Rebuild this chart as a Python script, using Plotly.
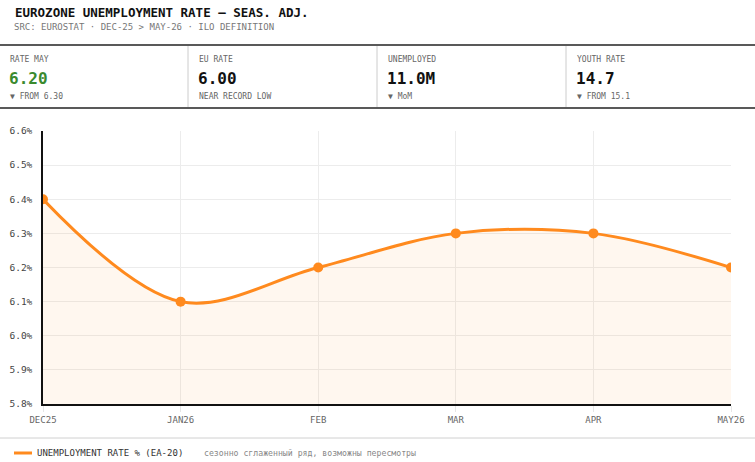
import plotly.graph_objects as go

months = ["DEC25", "JAN26", "FEB", "MAR", "APR", "MAY26"]
rate = [6.4, 6.1, 6.2, 6.3, 6.3, 6.2]

kpi_labels = ["RATE MAY", "EU RATE", "UNEMPLOYED", "YOUTH RATE"]
kpi_values = ["6.20", "6.00", "11.0M", "14.7"]
kpi_notes = ["▼ FROM 6.30", "NEAR RECORD LOW", "▼ MoM", "▼ FROM 15.1"]
kpi_colors = ["#3a8a2e", "#111111", "#111111", "#111111"]

W, H = 755, 462
L, R, T, B = 43, 731, 131, 404
FONT = "DejaVu Sans Mono"
ORANGE = "#ff8a1e"

def fx(px):
    return (px - L) / (R - L)

def fy(py):
    return (B - py) / (B - T)

fig = go.Figure()
fig.add_trace(go.Scatter(
    x=months, y=rate, mode="lines+markers",
    line=dict(color=ORANGE, width=3, shape="spline", smoothing=1.0),
    marker=dict(size=10, color=ORANGE),
    fill="tozeroy", fillcolor="rgba(255,138,30,0.07)",
    name="UNEMPLOYMENT RATE % (EA-20)", showlegend=False,
    hovertemplate="%{x}: %{y:.1f}%<extra></extra>",
))

shapes = []
ann = []

# header
ann.append(dict(x=fx(13), y=fy(12), xref="paper", yref="paper", xanchor="left", yanchor="middle",
                text="<b>EUROZONE UNEMPLOYMENT RATE — SEAS. ADJ.</b>", showarrow=False,
                font=dict(family=FONT, size=12.5, color="#111")))
ann.append(dict(x=fx(12), y=fy(27), xref="paper", yref="paper", xanchor="left", yanchor="middle",
                text="SRC: EUROSTAT · DEC-25 > MAY-26 · ILO DEFINITION", showarrow=False,
                font=dict(family=FONT, size=9, color="#777")))

shapes.append(dict(type="line", xref="paper", yref="paper", x0=fx(0), x1=fx(W), y0=fy(45), y1=fy(45),
                   line=dict(color="#222", width=1.5)))
shapes.append(dict(type="line", xref="paper", yref="paper", x0=fx(0), x1=fx(W), y0=fy(108), y1=fy(108),
                   line=dict(color="#222", width=1.5)))
for xd in [188, 377, 566]:
    shapes.append(dict(type="line", xref="paper", yref="paper", x0=fx(xd), x1=fx(xd), y0=fy(46), y1=fy(107),
                       line=dict(color="#ccc", width=1)))

starts = [8, 197, 386, 575]
for i, x0 in enumerate(starts):
    ann.append(dict(x=fx(x0), y=fy(59), xref="paper", yref="paper", xanchor="left", yanchor="middle",
                    text=kpi_labels[i], showarrow=False, font=dict(family=FONT, size=8, color="#666")))
    ann.append(dict(x=fx(x0 - 1), y=fy(78), xref="paper", yref="paper", xanchor="left", yanchor="middle",
                    text="<b>" + kpi_values[i] + "</b>", showarrow=False,
                    font=dict(family=FONT, size=16, color=kpi_colors[i])))
    ann.append(dict(x=fx(x0), y=fy(96), xref="paper", yref="paper", xanchor="left", yanchor="middle",
                    text=kpi_notes[i], showarrow=False, font=dict(family=FONT, size=8, color="#666")))

# footer
shapes.append(dict(type="line", xref="paper", yref="paper", x0=fx(0), x1=fx(W), y0=fy(438), y1=fy(438),
                   line=dict(color="#d0d0d0", width=1)))
shapes.append(dict(type="line", xref="paper", yref="paper", x0=fx(14), x1=fx(32), y0=fy(453), y1=fy(453),
                   line=dict(color=ORANGE, width=3)))
ann.append(dict(x=fx(35), y=fy(453), xref="paper", yref="paper", xanchor="left", yanchor="middle",
                text="UNEMPLOYMENT RATE % (EA-20)", showarrow=False,
                font=dict(family=FONT, size=9, color="#333")))
ann.append(dict(x=fx(202), y=fy(453), xref="paper", yref="paper", xanchor="left", yanchor="middle",
                text="сезонно сглаженный ряд, возможны пересмотры", showarrow=False,
                font=dict(family=FONT, size=8.2, color="#888")))

fig.update_layout(
    width=W, height=H,
    margin=dict(l=L, r=W - R, t=T, b=H - B),
    paper_bgcolor="white", plot_bgcolor="white",
    font=dict(family=FONT, size=9, color="#444"),
    shapes=shapes, annotations=ann,
    xaxis=dict(range=[0, 5], showgrid=True, gridcolor="#ececec", gridwidth=1,
               showline=True, linecolor="#111", linewidth=1.5, automargin=False,
               ticks="outside", ticklen=6, tickcolor="#e6e6e6",
               tickfont=dict(family=FONT, size=9, color="#666"), zeroline=False, fixedrange=True),
    yaxis=dict(range=[5.8, 6.6], dtick=0.1, tick0=5.8, tickformat=".1f", ticksuffix="%",
               showgrid=True, gridcolor="#ececec", gridwidth=1,
               showline=True, linecolor="#111", linewidth=1.5, automargin=False,
               ticks="outside", ticklen=7, tickcolor="rgba(0,0,0,0)",
               tickfont=dict(family=FONT, size=9.5, color="#444"), zeroline=False, fixedrange=True),
)

fig.write_html("out.html")
